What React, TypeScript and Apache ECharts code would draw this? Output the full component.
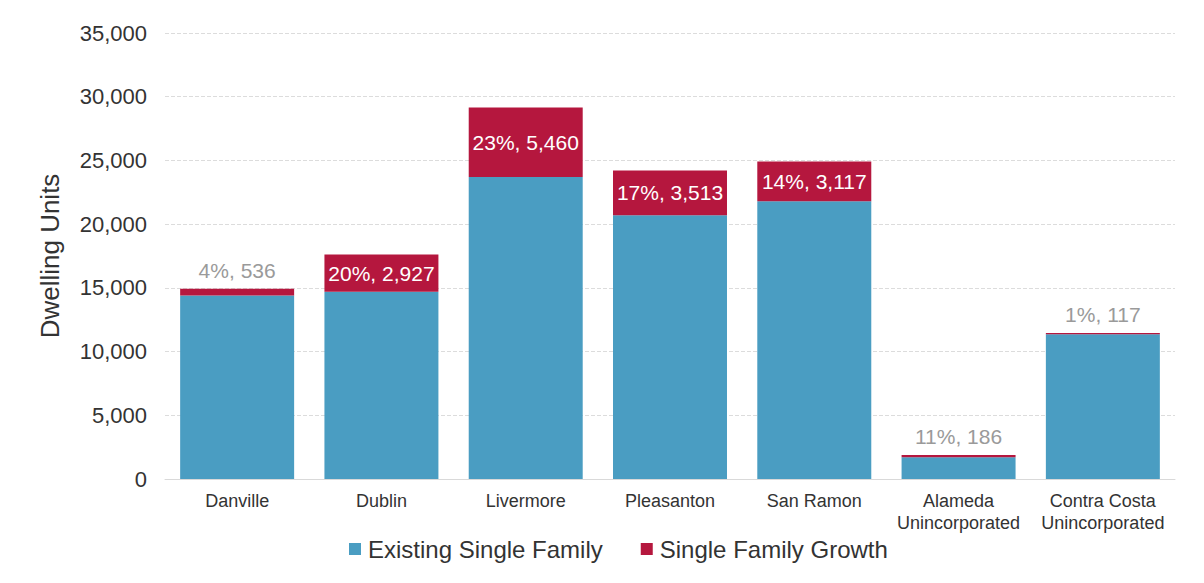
import React, { useEffect, useRef } from "react";
import * as echarts from "echarts";

const categories = [
  "Danville",
  "Dublin",
  "Livermore",
  "Pleasanton",
  "San Ramon",
  "Alameda\nUnincorporated",
  "Contra Costa\nUnincorporated",
];
const existingSingleFamily = [14400, 14700, 23700, 20700, 21800, 1700, 11350];
const singleFamilyGrowth = [536, 2927, 5460, 3513, 3117, 186, 117];
const growthPct = [4, 20, 23, 17, 14, 11, 1];
const seriesNames = ["Existing Single Family", "Single Family Growth"];

const BLUE = "#4a9dc2";
const RED = "#b5173e";

export default function App() {
  const ref = useRef<HTMLDivElement>(null);
  useEffect(() => {
    const chart = echarts.init(ref.current!, undefined, { renderer: "svg" });
    const growthData = singleFamilyGrowth.map((v, i) => {
      const outside = v < 1500;
      return {
        value: v,
        label: {
          show: true,
          position: outside ? "top" : "inside",
          color: outside ? "#9a9a9a" : "#ffffff",
          fontSize: 21,
          distance: 8,
          fontFamily: "Liberation Sans, Arial, sans-serif",
          formatter: () => `${growthPct[i]}%, ${v.toLocaleString("en-US")}`,
        },
      };
    });
    chart.setOption({
      animation: false,
      backgroundColor: "#ffffff",
      textStyle: { fontFamily: "Liberation Sans, Arial, sans-serif" },
      grid: { left: 165, right: 29, top: 33, bottom: 104, containLabel: false },
      legend: {
        top: 532,
        left: 344,
        itemWidth: 12,
        itemHeight: 12,
        itemGap: 38,
        icon: "rect",
        textStyle: { fontSize: 24, color: "#333", padding: [0, 0, 0, 2] },
        data: seriesNames,
      },
      xAxis: {
        type: "category",
        data: categories,
        axisLine: { show: true, lineStyle: { color: "#d9d9d9" } },
        axisTick: { show: false },
        axisLabel: {
          fontSize: 18,
          color: "#333",
          margin: 11,
          lineHeight: 22,
          interval: 0,
        },
      },
      yAxis: {
        type: "value",
        min: 0,
        max: 35000,
        interval: 5000,
        name: "Dwelling Units",
        nameLocation: "middle",
        nameGap: 102,
        nameTextStyle: { fontSize: 26, color: "#333" },
        axisLine: { show: false },
        axisTick: { show: false },
        axisLabel: {
          fontSize: 22,
          color: "#333",
          margin: 18,
          formatter: (v: number) => v.toLocaleString("en-US"),
        },
        splitLine: { lineStyle: { color: "#dcdcdc", type: "dashed", width: 1 } },
      },
      series: [
        {
          name: seriesNames[0],
          type: "bar",
          stack: "total",
          barCategoryGap: "21%",
          itemStyle: { color: BLUE },
          data: existingSingleFamily,
        },
        {
          name: seriesNames[1],
          type: "bar",
          stack: "total",
          barCategoryGap: "21%",
          itemStyle: { color: RED },
          data: growthData,
        },
      ],
    });
    return () => chart.dispose();
  }, []);
  return (
    <div
      ref={ref}
      style={{ position: "fixed", left: 0, top: 0, width: 1204, height: 583 }}
    />
  );
}
